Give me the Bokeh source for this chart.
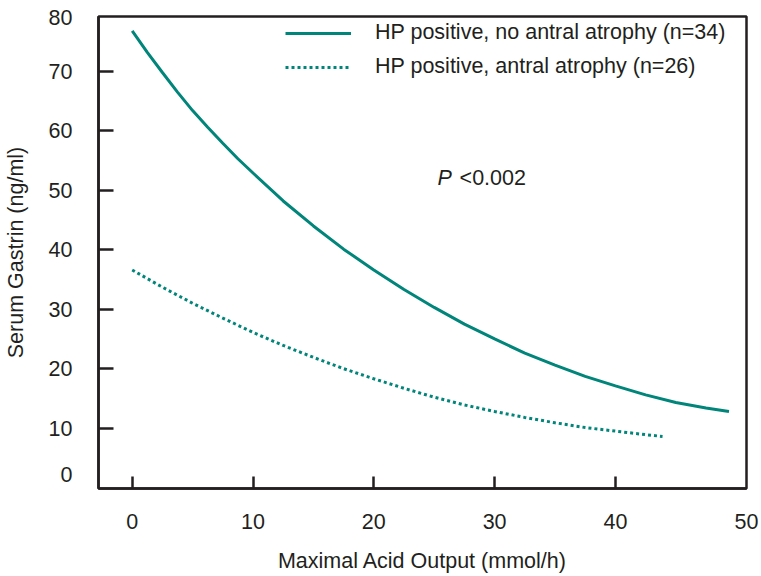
from bokeh.plotting import figure
from bokeh.models import Range1d, FixedTicker, Legend, LegendItem, Label
from bokeh.embed import file_html
from bokeh.resources import INLINE

# ---- data ----
x_no_atrophy = [0, 1.25, 2.5, 3.75, 5, 6.25, 7.5, 8.75, 10, 12.5, 15, 17.5,
                20, 22.5, 25, 27.5, 30, 32.5, 35, 37.5, 40, 42.5, 45, 47.5, 49.4]
y_no_atrophy = [76.8, 73.2, 69.8, 66.5, 63.4, 60.6, 57.9, 55.3, 52.9, 48.2,
                44.0, 40.1, 36.6, 33.3, 30.3, 27.5, 25.0, 22.6, 20.6, 18.7,
                17.1, 15.6, 14.3, 13.4, 12.8]

x_atrophy = [0, 2.5, 5, 7.5, 10, 12.5, 15, 17.5, 20, 22.5, 25, 27.5, 30,
             32.5, 35, 37.5, 40, 42.5, 43.9]
y_atrophy = [36.6, 33.7, 31.0, 28.5, 26.1, 23.9, 21.9, 20.0, 18.3, 16.7,
             15.2, 13.9, 12.8, 11.8, 10.9, 10.1, 9.5, 8.9, 8.6]

label_no_atrophy = "HP positive, no antral atrophy (n=34)"
label_atrophy = "HP positive, antral atrophy (n=26)"

x_tick_marks = [0, 10, 20, 30, 40]
x_tick_labels = {0: "0", 10: "10", 20: "20", 30: "30", 40: "40", 50.85: "50"}
y_tick_marks = [10, 20, 30, 40, 50, 60, 70]
y_tick_labels = {2.2: "0", 10: "10", 20: "20", 30: "30", 40: "40",
                 50: "50", 60: "60", 70: "70", 79.0: "80"}

TEAL = "#00857a"
INK = "#231f20"
FONT = "Liberation Sans"
FS = "21.5px"

p = figure(width=760, height=575, output_backend="svg", toolbar_location=None,
           x_range=Range1d(-2.79, 50.85), y_range=Range1d(-0.15, 79.22),
           min_border_left=98, min_border_right=14, min_border_top=16,
           min_border_bottom=85)
p.grid.visible = False
p.background_fill_color = "white"
p.border_fill_color = "white"
p.outline_line_color = INK
p.outline_line_width = 2.5

r1 = p.line(x_no_atrophy, y_no_atrophy, line_color=TEAL, line_width=3)
r2 = p.line(x_atrophy, y_atrophy, line_color=TEAL, line_width=3,
            line_dash="3 3")

for ax, marks, labels in ((p.xaxis[0], x_tick_marks, x_tick_labels),
                          (p.yaxis[0], y_tick_marks, y_tick_labels)):
    ax.ticker = FixedTicker(ticks=list(labels.keys()), minor_ticks=marks)
    ax.major_label_overrides = labels
    ax.major_tick_line_color = None
    ax.minor_tick_line_color = INK
    ax.minor_tick_line_width = 2.5
    ax.minor_tick_out = 0
    ax.axis_line_color = INK
    ax.axis_line_width = 2.5
    ax.major_label_text_font = FONT
    ax.major_label_text_font_size = FS
    ax.major_label_text_color = INK
    ax.axis_label_text_font = FONT
    ax.axis_label_text_font_size = FS
    ax.axis_label_text_font_style = "normal"
    ax.axis_label_text_color = INK

p.xaxis[0].minor_tick_in = 12
p.yaxis[0].minor_tick_in = 15
p.xaxis[0].major_label_standoff = 19
p.xaxis[0].axis_label_standoff = 17
p.yaxis[0].major_label_standoff = 20
p.yaxis[0].axis_label_standoff = 18
p.xaxis[0].axis_label = "Maximal Acid Output (mmol/h)"
p.yaxis[0].axis_label = "Serum Gastrin (ng/ml)"

legend = Legend(items=[LegendItem(label=label_no_atrophy, renderers=[r1]),
                       LegendItem(label=label_atrophy, renderers=[r2])],
                location=(187, 409), glyph_width=66, glyph_height=20,
                label_standoff=24, spacing=9, padding=0, margin=0,
                border_line_color=None, background_fill_alpha=0,
                label_text_font=FONT, label_text_font_size=FS,
                label_text_color=INK)
p.add_layout(legend)

p.add_layout(Label(x=25.27, y=52.1, text="P", text_font=FONT,
                   text_font_size=FS, text_font_style="italic",
                   text_color=INK, text_baseline="middle"))
p.add_layout(Label(x=27.1, y=52.1, text="<0.002", text_font=FONT,
                   text_font_size=FS, text_color=INK,
                   text_baseline="middle"))

open("out.html", "w").write(file_html(p, INLINE))
